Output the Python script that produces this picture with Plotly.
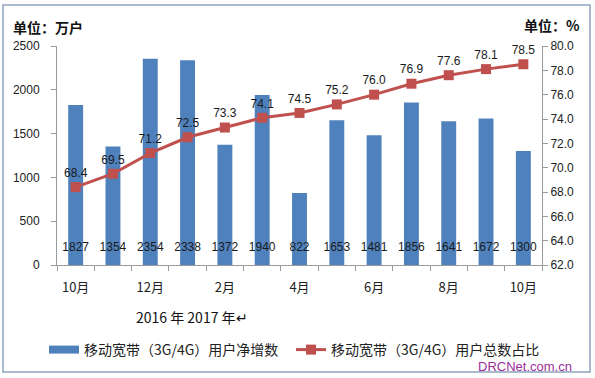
import plotly.graph_objects as go

months = ["10月", "11月", "12月", "1月", "2月", "3月", "4月", "5月", "6月", "7月", "8月", "9月", "10月"]
net_adds = [1827, 1354, 2354, 2338, 1372, 1940, 822, 1653, 1481, 1856, 1641, 1672, 1300]
share_pct = [68.4, 69.5, 71.2, 72.5, 73.3, 74.1, 74.5, 75.2, 76.0, 76.9, 77.6, 78.1, 78.5]

idx = list(range(len(months)))
num_font = "Liberation Sans, Arial, sans-serif"
cjk_font = "Noto Sans CJK SC, sans-serif"
bar_color = "#4F81BD"
line_color = "#C0504D"

L, R, T, B = 57, 53, 46, 113
W, H = 595, 378
pw, ph = W - L - R, H - T - B

def px_x(x):
    return (x - L) / pw

def px_y(y):
    return (H - B - y) / ph

# bar value labels sit in a row just above the axis base (17 px up)
label_row = 17 / ph * 2500

fig = go.Figure()
fig.add_trace(go.Bar(
    x=idx, y=net_adds, name="移动宽带（3G/4G）用户净增数",
    marker=dict(color=bar_color, line=dict(width=0)),
    width=0.4, yaxis="y", showlegend=False,
))
# legend swatch for the bars (wide rectangle like the original)
fig.add_trace(go.Scatter(
    x=[None], y=[None], mode="lines", name="移动宽带（3G/4G）用户净增数",
    line=dict(color=bar_color, width=8), legend="legend", hoverinfo="skip",
))
fig.add_trace(go.Scatter(
    x=idx, y=[label_row] * len(net_adds), mode="text",
    text=[str(v) for v in net_adds], textposition="middle center",
    textfont=dict(family=num_font, size=12, color="#1a1a1a"),
    showlegend=False, hoverinfo="skip", yaxis="y",
))
fig.add_trace(go.Scatter(
    x=idx, y=share_pct, name="移动宽带（3G/4G）用户总数占比",
    mode="lines+markers+text",
    line=dict(color=line_color, width=3),
    marker=dict(symbol="square", size=10, color=line_color),
    text=[f"{v:.1f}" for v in share_pct], textposition="top center",
    textfont=dict(family=num_font, size=12, color="#1a1a1a"),
    yaxis="y2", cliponaxis=False, legend="legend2",
))

leg_common = dict(orientation="h", yanchor="middle", y=px_y(350),
                  font=dict(family=cjk_font, size=14, color="#222"),
                  itemwidth=30, bgcolor="rgba(0,0,0,0)")

fig.update_layout(
    width=W, height=H,
    margin=dict(l=L, r=R, t=T, b=B, autoexpand=False),
    paper_bgcolor="white", plot_bgcolor="white",
    showlegend=True,
    legend=dict(x=px_x(44), xanchor="left", **leg_common),
    legend2=dict(x=px_x(291), xanchor="left", **leg_common),
    xaxis=dict(
        range=[-0.5, 12.5], tickmode="array", tickvals=idx[::2], ticktext=months[::2],
        ticks="", showline=True, linecolor="#9a9a9a", linewidth=1, showgrid=False,
        zeroline=False, tickfont=dict(family=cjk_font, size=13, color="#222"),
        ticklabelstandoff=10,
        minor=dict(tickmode="array", tickvals=[i - 0.5 for i in range(len(months) + 1)],
                   ticks="outside", ticklen=5, tickcolor="#9a9a9a"),
    ),
    yaxis=dict(
        range=[0, 2500], dtick=500, ticks="outside", ticklen=5, tickcolor="#9a9a9a",
        showline=True, linecolor="#9a9a9a", showgrid=False, zeroline=False,
        tickfont=dict(family=num_font, size=12, color="#222"), ticklabelstandoff=9,
    ),
    yaxis2=dict(
        range=[62, 80], dtick=2, tickformat=".1f", overlaying="y", side="right",
        ticks="outside", ticklen=5, tickcolor="#9a9a9a",
        showline=True, linecolor="#9a9a9a", showgrid=False, zeroline=False,
        tickfont=dict(family=num_font, size=12, color="#222"),
    ),
    font=dict(family=cjk_font),
)

fig.add_annotation(text="<b>单位：万户</b>", xref="paper", yref="paper",
                   x=px_x(11), y=px_y(27), xanchor="left", yanchor="middle",
                   showarrow=False, font=dict(family=cjk_font, size=14, color="#111"))
fig.add_annotation(text="<b>单位：%</b>", xref="paper", yref="paper",
                   x=px_x(582), y=px_y(25), xanchor="right", yanchor="middle",
                   showarrow=False, font=dict(family=cjk_font, size=14, color="#111"))
fig.add_annotation(text="2016 年 2017 年↵", xref="paper", yref="paper",
                   x=px_x(192), y=px_y(317), xanchor="center", yanchor="middle",
                   showarrow=False, font=dict(family=cjk_font, size=14, color="#111"))
fig.add_annotation(text="DRCNet.com.cn", xref="paper", yref="paper",
                   x=px_x(574), y=px_y(366), xanchor="right", yanchor="middle",
                   showarrow=False, font=dict(family=num_font, size=13, color="#9B2F9B"))
fig.add_shape(type="rect", xref="paper", yref="paper",
              x0=px_x(3), x1=px_x(590), y0=px_y(372), y1=px_y(5),
              line=dict(color="#8EA4BE", width=1.5), fillcolor="rgba(0,0,0,0)", layer="below")

fig.write_html("out.html", config={"displayModeBar": False},
               post_script="document.body.style.margin='0';")
